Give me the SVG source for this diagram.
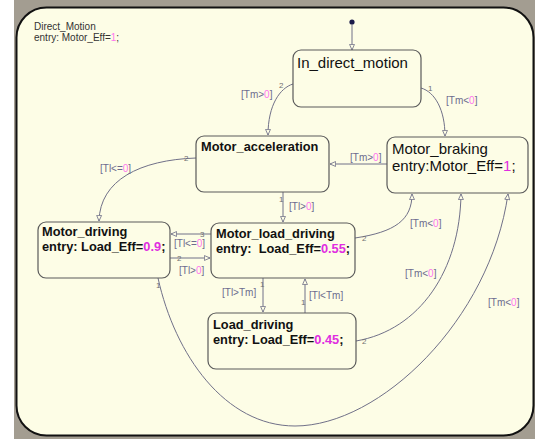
<svg xmlns="http://www.w3.org/2000/svg" width="535" height="439" viewBox="0 0 535 439">
<defs>
<style>
.box{fill:#fdfde6;stroke:#5a5a5a;stroke-width:1.2}
.t{fill:none;stroke:#707088;stroke-width:1}
.lbl{font-family:"Liberation Sans",Arial,sans-serif;font-size:10px;fill:#6c6c8e}
.num{font-family:"Liberation Sans",Arial,sans-serif;font-size:8px;fill:#707070}
.pk{fill:#ff77ee}
.n1{font-family:"Liberation Sans",Arial,sans-serif;font-size:15px;fill:#111}
.n2{font-family:"Liberation Sans",Arial,sans-serif;font-size:12.8px;font-weight:bold;fill:#111}
.mg{fill:#e02ee0}
</style>
<marker id="ah" viewBox="0 0 10 10" refX="9" refY="5" markerWidth="7" markerHeight="7" orient="auto" markerUnits="userSpaceOnUse">
<path d="M1,1.5 L9,5 L1,8.5 Z" fill="#fdfde6" stroke="#707088" stroke-width="1.2"/>
</marker>
</defs>
<rect x="0" y="0" width="535" height="439" fill="#ffffff"/>
<rect x="14" y="0" width="521" height="439" fill="#a39d91"/>
<g id="Direct_Motion">
<rect x="16.5" y="7.5" width="517" height="428" rx="30" fill="#fdfde6" stroke="#111" stroke-width="2"/>
<text x="34" y="30" font-family="Liberation Sans,Arial,sans-serif" font-size="10" fill="#333">Direct_Motion</text>
<text x="34" y="41" font-family="Liberation Sans,Arial,sans-serif" font-size="10" fill="#333">entry: Motor_Eff=<tspan fill="#ff77ee">1</tspan>;</text>
</g>
<g id="connectors">
<circle cx="352" cy="22" r="2.6" fill="#1a1a4a"/>
<path class="t" d="M352,24 L352,50" marker-end="url(#ah)"/>
<path class="t" d="M293,84 C280,88 268,105 268,135" marker-end="url(#ah)"/>
<path class="t" d="M421,88 C435,92 445,110 445,136" marker-end="url(#ah)"/>
<path class="t" d="M387,164 L330,164" marker-end="url(#ah)"/>
<path class="t" d="M196,158 C140,160 100,180 99,221" marker-end="url(#ah)"/>
<path class="t" d="M283,192 L283,222" marker-end="url(#ah)"/>
<path class="t" d="M211,234 L171,234" marker-end="url(#ah)"/>
<path class="t" d="M170,258 L210,258" marker-end="url(#ah)"/>
<path class="t" d="M263,278 L263,312" marker-end="url(#ah)"/>
<path class="t" d="M305,313 L305,279" marker-end="url(#ah)"/>
<path class="t" d="M355,238 C395,232 412,220 412,194" marker-end="url(#ah)"/>
<path class="t" d="M356,341 C420,330 460,270 461,194" marker-end="url(#ah)"/>
<path class="t" d="M158,278 C175,355 225,426 295,426 C380,426 490,320 508,194" marker-end="url(#ah)"/>
<text class="num" x="279" y="88">2</text>
<text class="num" x="428" y="91">1</text>
<text class="num" x="184" y="161">2</text>
<text class="num" x="279" y="202">1</text>
<text class="num" x="200" y="237">3</text>
<text class="num" x="177" y="261">2</text>
<text class="num" x="260" y="287">1</text>
<text class="num" x="301" y="305">1</text>
<text class="num" x="362" y="241">2</text>
<text class="num" x="362" y="344">2</text>
<text class="num" x="156" y="288">1</text>
<text class="lbl" x="241" y="98">[Tm&gt;<tspan class="pk">0</tspan>]</text>
<text class="lbl" x="446" y="104">[Tm&lt;<tspan class="pk">0</tspan>]</text>
<text class="lbl" x="350" y="161">[Tm&gt;<tspan class="pk">0</tspan>]</text>
<text class="lbl" x="100" y="172">[Tl&lt;=<tspan class="pk">0</tspan>]</text>
<text class="lbl" x="289" y="210">[Tl&gt;<tspan class="pk">0</tspan>]</text>
<text class="lbl" x="174" y="247">[Tl&lt;=<tspan class="pk">0</tspan>]</text>
<text class="lbl" x="179" y="274">[Tl&gt;<tspan class="pk">0</tspan>]</text>
<text class="lbl" x="222" y="296">[Tl&gt;Tm]</text>
<text class="lbl" x="309" y="299">[Tl&lt;Tm]</text>
<text class="lbl" x="410" y="227">[Tm&lt;<tspan class="pk">0</tspan>]</text>
<text class="lbl" x="405" y="277">[Tm&lt;<tspan class="pk">0</tspan>]</text>
<text class="lbl" x="488" y="306">[Tm&lt;<tspan class="pk">0</tspan>]</text>
</g>
<g id="In_direct_motion">
<rect class="box" x="293" y="50" width="128" height="57" rx="8"/>
<text class="n1" x="297" y="68">In_direct_motion</text>
</g>
<g id="Motor_acceleration">
<rect class="box" x="196" y="136" width="133" height="56" rx="8"/>
<text class="n2" x="201" y="151">Motor_acceleration</text>
</g>
<g id="Motor_braking">
<rect class="box" x="387" y="137" width="141" height="56" rx="8"/>
<text class="n1" x="392" y="154">Motor_braking</text>
<text class="n1" x="392" y="171">entry:Motor_Eff=<tspan class="mg">1</tspan>;</text>
</g>
<g id="Motor_driving">
<rect class="box" x="38" y="222" width="132" height="56" rx="8"/>
<text class="n2" x="42" y="236">Motor_driving</text>
<text class="n2" x="42" y="251">entry: Load_Eff=<tspan class="mg">0.9</tspan>;</text>
</g>
<g id="Motor_load_driving">
<rect class="box" x="211" y="223" width="144" height="55" rx="8"/>
<text class="n2" x="216" y="238">Motor_load_driving</text>
<text class="n2" x="216" y="253" xml:space="preserve">entry:  Load_Eff=<tspan class="mg">0.55</tspan>;</text>
</g>
<g id="Load_driving">
<rect class="box" x="208" y="313" width="148" height="56" rx="8"/>
<text class="n2" x="213" y="329">Load_driving</text>
<text class="n2" x="213" y="344">entry: Load_Eff=<tspan class="mg">0.45</tspan>;</text>
</g>
</svg>
